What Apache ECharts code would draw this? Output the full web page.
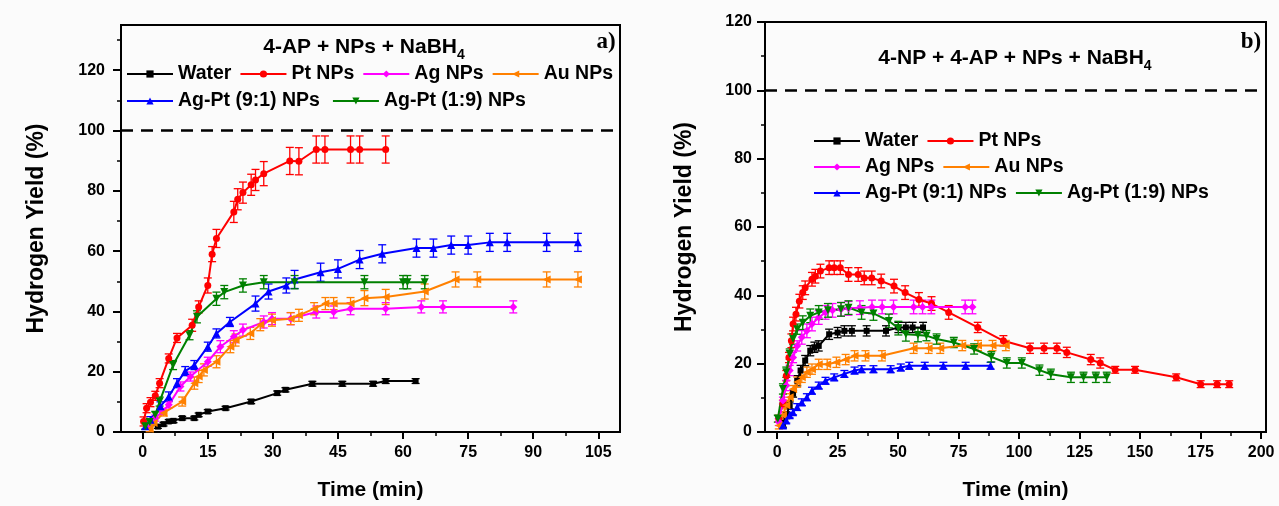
<!DOCTYPE html>
<html><head><meta charset="utf-8">
<script src="https://cdn.jsdelivr.net/npm/echarts@6/dist/echarts.min.js"></script>
<style>html,body{margin:0;padding:0;background:#fbfbfb}#c{width:1279px;height:506px}</style>
</head><body><div id="c"></div>
<script>
// ---------- names ----------
const seriesNames = ['Water', 'Pt NPs', 'Ag NPs', 'Au NPs', 'Ag-Pt (9:1) NPs', 'Ag-Pt (1:9) NPs'];

// ---------- ticks ----------
const xTicksA = [0, 15, 30, 45, 60, 75, 90, 105];
const xMinorA = [7.5, 22.5, 37.5, 52.5, 67.5, 82.5, 97.5];
const yTicksA = [0, 20, 40, 60, 80, 100, 120];
const yMinorA = [10, 30, 50, 70, 90, 110, 130];
const xTicksB = [0, 25, 50, 75, 100, 125, 150, 175, 200];
const xMinorB = [12.5, 37.5, 62.5, 87.5, 112.5, 137.5, 162.5, 187.5];
const yTicksB = [0, 20, 40, 60, 80, 100, 120];
const yMinorB = [10, 30, 50, 70, 90, 110];
const refLine = 100;

// ---------- panel a: 4-AP + NPs + NaBH4 ----------
const waterA_t = [3.5, 4.8, 6, 7.1, 9.1, 11.9, 12.9, 15, 19.1, 25, 31, 32.9, 39.1, 46, 53.1, 56, 62.9];
const waterA_y = [1.8, 2.6, 3.5, 3.7, 4.6, 4.6, 5.7, 6.8, 7.9, 10.1, 12.9, 14, 16, 16, 16, 16.9, 16.9];
const waterA_e = [0.6, 0.6, 0.6, 0.6, 0.6, 0.6, 0.6, 0.6, 0.6, 0.7, 0.7, 0.7, 0.8, 0.8, 0.8, 0.8, 0.8];

const ptA_t = [0.2, 0.9, 1.8, 2.9, 3.9, 6, 7.9, 11.4, 12.9, 15, 16, 17, 21, 21.9, 23.1, 25, 26, 27.9, 33.9, 36, 40, 42, 47.9, 50, 56];
const ptA_y = [3.5, 7.9, 9.9, 12, 16.2, 24.4, 31.2, 35.4, 41.5, 48.6, 59, 64.2, 73, 77.2, 79.4, 82, 83.6, 85.7, 89.9, 89.8, 93.7, 93.7, 93.7, 93.7, 93.7];
const ptA_e = [1.5, 1.5, 1.5, 1.5, 1.5, 1.5, 1.5, 2, 2, 2.5, 2.5, 3, 3.5, 3.5, 3.5, 3.5, 3.5, 4, 4.5, 4.5, 4.5, 4.5, 4.5, 4.5, 4.5];

const agA_t = [1, 2.9, 4.5, 6, 8.7, 11, 15, 17.9, 21, 23.1, 27.9, 29.8, 34.1, 40, 44, 47.9, 56, 64.2, 69.2, 85.4];
const agA_y = [1.9, 4.6, 6.8, 9, 15.1, 18.4, 23.3, 28.3, 31.6, 33.8, 36.5, 37.6, 37.6, 39.8, 39.8, 40.9, 40.9, 41.5, 41.5, 41.5];
const agA_e = [1, 1, 1, 1, 1.5, 1.5, 1.5, 2, 2, 2, 2, 2, 2, 2, 2, 2, 2, 2, 2, 2];

const auA_t = [1.6, 2.5, 4.8, 9.1, 11.9, 12.9, 14.1, 17, 20.2, 21.4, 24.8, 27.1, 29.8, 34.1, 36, 39.5, 42.1, 44, 47.9, 51.1, 56, 65, 72.1, 77.1, 93.1, 100.3];
const auA_y = [1.1, 3, 6.3, 10.1, 16.2, 18.4, 20.6, 23.3, 28.3, 30.5, 32.7, 35.6, 37.1, 37.6, 38.7, 40.9, 42.6, 42.6, 42.6, 44.4, 44.8, 46.6, 50.6, 50.6, 50.6, 50.6];
const auA_e = [1, 1, 1, 1.5, 2, 2, 2, 2, 2, 2, 2, 2, 2, 2, 2, 2, 2, 2, 2, 2.5, 2.5, 2.5, 2.5, 2.5, 2.5, 2.5];

const ap91A_t = [0.6, 1.8, 4.1, 6, 7.9, 9.8, 11.9, 15, 17, 20.1, 26, 29, 33.1, 35, 41, 45, 50, 55.2, 63.1, 67, 71.1, 75, 80, 84, 93.1, 100.3];
const ap91A_y = [1.9, 4.1, 8.5, 11.8, 16.2, 20.2, 22.2, 28.3, 32.7, 36.5, 42.6, 46.6, 48.6, 50.6, 53, 54.1, 57.2, 59.1, 61, 61, 62, 62, 62.9, 62.9, 62.9, 62.9];
const ap91A_e = [1, 1, 1.5, 1.5, 1.5, 1.5, 1.5, 1.5, 1.5, 1.5, 2.5, 2.5, 2.5, 3, 3, 3, 3, 3, 3, 3, 3, 3, 3, 3, 3, 3];

const ap19A_t = [0.6, 1.6, 2.9, 3.9, 7, 10.8, 12.5, 17, 18.8, 23.1, 27.9, 35, 51.1, 60, 61, 65];
const ap19A_y = [1.9, 3.3, 5.7, 10.1, 22.2, 32.1, 38.2, 44.2, 46.4, 48.6, 49.7, 49.7, 49.7, 49.7, 49.7, 49.7];
const ap19A_e = [1, 1, 1, 1.5, 1.5, 1.5, 2, 2.2, 2.2, 2.2, 2.2, 2.2, 2.2, 2.2, 2.2, 2.2];

// ---------- panel b: 4-NP + 4-AP + NPs + NaBH4 ----------
const waterB_t = [2.4, 3.8, 5.2, 6.6, 8.3, 9.7, 11.6, 13.7, 15.4, 17.2, 21.5, 25, 27.8, 30.9, 37, 45, 50.1, 53.2, 56, 60.3];
const waterB_y = [2.4, 4.9, 7.8, 11.2, 15, 18, 20.9, 23.8, 24.8, 25.2, 28.6, 29.1, 29.6, 29.6, 29.6, 29.6, 30.6, 30.6, 30.6, 30.6];
const waterB_e = [1, 1, 1, 1, 1.5, 1.5, 1.5, 1.5, 1.5, 1.5, 1.5, 1.5, 1.5, 1.5, 1.5, 1.5, 1.5, 1.5, 1.5, 1.5];

const ptB_t = [0.7, 2.4, 3.8, 4.9, 5.9, 6.6, 7.8, 9.2, 10.6, 11.6, 14.4, 15.8, 17.9, 21.5, 23.6, 26.1, 29.5, 33.5, 36, 39.1, 43, 48.3, 52.9, 58.6, 63.8, 70.9, 82.9, 93.5, 104.5, 110.3, 115.6, 119.7, 129.6, 133.5, 139.7, 147.9, 164.9, 175, 181.8, 186.8];
const ptB_y = [3.9, 8.3, 16.5, 21.8, 26.7, 31.6, 34.5, 38.3, 40.8, 42.2, 44.7, 45.6, 47.1, 48.1, 48.1, 48.1, 46.1, 46.1, 45.1, 45.1, 44.2, 42.7, 40.8, 38.8, 37.6, 35, 30.6, 26.7, 24.5, 24.5, 24.5, 23.3, 21.2, 20.2, 18.2, 18.2, 16, 14, 14, 14];
const ptB_e = [1, 1, 1.5, 1.5, 2, 2, 2, 2, 2, 2, 2, 2, 2, 2, 2, 2, 2, 2, 2, 2, 2, 2, 2, 2, 2, 2, 1.5, 1.5, 1.5, 1.5, 1.5, 1.5, 1.5, 1.5, 1, 1, 1, 1, 1, 1];

const agB_t = [0.7, 2.4, 3.8, 5.2, 6.6, 8.3, 10.2, 12.3, 14.4, 17.2, 20, 22.9, 26.4, 29.5, 34.2, 39.2, 43.4, 48.1, 56.4, 60.1, 63.7, 77.7, 80.7];
const agB_y = [2.9, 9.2, 13.6, 18, 21.8, 25.2, 27.7, 29.6, 31.6, 33.5, 35, 35.6, 35.9, 36.2, 36.4, 36.6, 36.6, 36.6, 36.6, 36.6, 36.6, 36.6, 36.6];
const agB_e = [1, 1, 1.5, 1.5, 1.5, 1.5, 2, 2, 2, 2, 2, 2, 2, 2, 2, 2, 2, 2, 2, 2, 2, 2, 2];

const auB_t = [0.7, 2.4, 3.8, 5.2, 6.6, 8.3, 10.2, 12.3, 14.4, 17.2, 20.7, 24.5, 28.3, 32, 36.5, 43.3, 56.4, 62.6, 67.4, 76.5, 83, 89, 94.5];
const auB_y = [1.9, 4.9, 7.8, 10.2, 12.6, 14.6, 16, 17.5, 18.4, 19.8, 19.8, 20.4, 21.2, 22.3, 22.3, 22.3, 24.5, 24.5, 24.5, 25.3, 25.3, 25.3, 25.3];
const auB_e = [1, 1, 1, 1, 1, 1.5, 1.5, 1.5, 1.5, 1.5, 1.5, 1.5, 1.5, 1.5, 1.5, 1.5, 1.5, 1.5, 1.5, 1.5, 1.5, 1.5, 1.5];

const ap91B_t = [2.4, 3.8, 5.2, 6.6, 8.3, 10.2, 12.3, 14.4, 17.2, 20, 23.6, 27.8, 32, 34.9, 39.8, 46.9, 51.1, 54.6, 61, 68.7, 77.9, 88.2];
const ap91B_y = [1.9, 3.4, 4.9, 5.8, 7.3, 8.7, 10.2, 12.1, 13.6, 15, 16, 17, 18, 18.4, 18.4, 18.4, 18.9, 19.4, 19.4, 19.4, 19.4, 19.4];
const ap91B_e = [0.8, 0.8, 0.8, 0.8, 1, 1, 1, 1, 1, 1, 1, 1, 1, 1, 1, 1, 1, 1, 1, 1, 1, 1];

const ap19B_t = [0.3, 2.4, 3.8, 5.2, 6.6, 8.3, 10.6, 13.7, 17.2, 21, 26.4, 29.5, 34.9, 39.8, 46.2, 50.1, 53.2, 58.2, 61.7, 65.9, 73, 81.4, 88.5, 94.9, 101.1, 108.4, 113.1, 121.4, 126.6, 131.7, 136.2];
const ap19B_y = [3.9, 12.6, 17.5, 22.8, 27.2, 30.1, 32, 34, 35, 35.6, 35.9, 36.4, 35, 34.7, 32.5, 30.4, 28.6, 28.4, 28.2, 27.2, 26.2, 24.3, 22, 20.2, 20.2, 18.1, 16.9, 16, 16, 16, 16];
const ap19B_e = [1, 1.5, 1.5, 1.5, 1.5, 1.5, 2, 2, 2, 2, 2, 2, 2, 2, 2, 2, 2, 2, 1.5, 1.5, 1.5, 1.5, 1.5, 1.5, 1.5, 1.5, 1.5, 1.5, 1.5, 1.5, 1.5];

// ---------- build ----------
const panelA = [[waterA_t, waterA_y, waterA_e], [ptA_t, ptA_y, ptA_e], [agA_t, agA_y, agA_e],
                [auA_t, auA_y, auA_e], [ap91A_t, ap91A_y, ap91A_e], [ap19A_t, ap19A_y, ap19A_e]];
const panelB = [[waterB_t, waterB_y, waterB_e], [ptB_t, ptB_y, ptB_e], [agB_t, agB_y, agB_e],
                [auB_t, auB_y, auB_e], [ap91B_t, ap91B_y, ap91B_e], [ap19B_t, ap19B_y, ap19B_e]];

const colors = ['#000000', '#ff0000', '#ff00ff', '#ff8000', '#0000ff', '#008000'];
const symbols = ['rect', 'circle', 'diamond', 'triangle', 'triangle', 'triangle'];
const symRot = [0, 0, 0, 90, 0, 180];
const symSize = [6, 7, 8, 8, 8, 8];
const FONT = 'Liberation Sans, Arial, Helvetica, sans-serif';

function errRender(color) {
  return function (params, api) {
    const x = api.value(0), y = api.value(1), e = api.value(2);
    const hi = api.coord([x, y + e]), lo = api.coord([x, y - e]);
    const w = 4;
    const st = { stroke: color, lineWidth: 1.3 };
    return { type: 'group', children: [
      { type: 'line', shape: { x1: hi[0], y1: hi[1], x2: lo[0], y2: lo[1] }, style: st },
      { type: 'line', shape: { x1: hi[0] - w, y1: hi[1], x2: hi[0] + w, y2: hi[1] }, style: st },
      { type: 'line', shape: { x1: lo[0] - w, y1: lo[1], x2: lo[0] + w, y2: lo[1] }, style: st }
    ]};
  };
}

const series = [];
[panelA, panelB].forEach(function (panel, p) {
  panel.forEach(function (arr, i) {
    const pts = arr[0].map(function (t, k) { return [t, arr[1][k], arr[2][k]]; });
    series.push({
      type: 'custom', xAxisIndex: p, yAxisIndex: p, z: 2, silent: true,
      renderItem: errRender(colors[i]), encode: { x: 0, y: 1 },
      data: pts
    });
    const s = {
      name: seriesNames[i], type: 'line', xAxisIndex: p, yAxisIndex: p, z: 3,
      data: pts.map(function (d) { return [d[0], d[1]]; }),
      symbol: symbols[i], symbolRotate: symRot[i], symbolSize: symSize[i],
      showAllSymbol: true, animation: false,
      lineStyle: { color: colors[i], width: 2 },
      itemStyle: { color: colors[i] }
    };
    if (i === 0) {
      s.markLine = { silent: true, symbol: 'none', animation: false,
        label: { show: false },
        lineStyle: { color: '#000', type: [12, 8], width: 2.5 },
        data: [{ yAxis: refLine }] };
    }
    series.push(s);
  });
});

function mainX(grid, min, max, ticks) {
  return { type: 'value', gridIndex: grid, min: min, max: max, position: 'bottom',
    axisLine: { show: true, onZero: false, lineStyle: { color: '#000', width: 2 } },
    axisTick: { show: true, customValues: ticks, length: 7, lineStyle: { color: '#000', width: 2 } },
    axisLabel: { customValues: ticks, color: '#000', fontSize: 16, fontWeight: 'bold', fontFamily: FONT, margin: 13 },
    splitLine: { show: false },
    name: 'Time (min)', nameLocation: 'middle', nameGap: 48,
    nameTextStyle: { color: '#000', fontSize: 21, fontWeight: 'bold', fontFamily: FONT } };
}
function minorX(grid, min, max, ticks) {
  return { type: 'value', gridIndex: grid, min: min, max: max, position: 'bottom',
    axisLine: { show: false, onZero: false }, axisLabel: { show: false }, splitLine: { show: false },
    axisTick: { show: true, customValues: ticks, length: 4, lineStyle: { color: '#000', width: 1.5 } } };
}
function mainY(grid, min, max, ticks, gap, margin) {
  return { type: 'value', gridIndex: grid, min: min, max: max, position: 'left',
    axisLine: { show: true, onZero: false, lineStyle: { color: '#000', width: 2 } },
    axisTick: { show: true, customValues: ticks, length: 8, lineStyle: { color: '#000', width: 2 } },
    axisLabel: { customValues: ticks, color: '#000', fontSize: 16, fontWeight: 'bold', fontFamily: FONT, margin: margin },
    splitLine: { show: false },
    name: 'Hydrogen Yield (%)', nameLocation: 'middle', nameGap: gap,
    nameTextStyle: { color: '#000', fontSize: 23, fontWeight: 'bold', fontFamily: FONT } };
}
function minorY(grid, min, max, ticks) {
  return { type: 'value', gridIndex: grid, min: min, max: max, position: 'left',
    axisLine: { show: false, onZero: false }, axisLabel: { show: false }, splitLine: { show: false },
    axisTick: { show: true, customValues: ticks, length: 4, lineStyle: { color: '#000', width: 1.5 } } };
}

function legend(names, left, top, gap) {
  return { data: names, left: left, top: top, orient: 'horizontal', padding: 0,
    itemWidth: 46, itemHeight: 9, itemGap: gap, selectedMode: false,
    textStyle: { color: '#000', fontSize: 19.5, fontWeight: 'bold', fontFamily: FONT } };
}

const rich = function (size) {
  return {
    m: { fontSize: size, fontWeight: 'bold', fontFamily: FONT, fill: '#000', lineHeight: 30, verticalAlign: 'middle' },
    s: { fontSize: 14, fontWeight: 'bold', fontFamily: FONT, fill: '#000', lineHeight: 30, verticalAlign: 'bottom' }
  };
};

const option = {
  backgroundColor: '#fbfbfb',
  animation: false,
  grid: [
    { left: 121, top: 25, width: 499, height: 409, show: true, borderColor: '#000', borderWidth: 2, backgroundColor: 'transparent' },
    { left: 765, top: 22, width: 501, height: 412, show: true, borderColor: '#000', borderWidth: 2, backgroundColor: 'transparent' }
  ],
  xAxis: [mainX(0, -5, 110, xTicksA), mainX(1, -5, 202, xTicksB), minorX(0, -5, 110, xMinorA), minorX(1, -5, 202, xMinorB)],
  yAxis: [mainY(0, 0, 135, yTicksA, 73, 16), mainY(1, 0, 120, yTicksB, 69, 13), minorY(0, 0, 135, yMinorA), minorY(1, 0, 120, yMinorB)],
  legend: [
    legend(seriesNames.slice(0, 4), 126, 64, 8),
    legend(seriesNames.slice(4, 6), 126, 91, 12),
    legend(seriesNames.slice(0, 2), 813, 131, 8),
    legend(seriesNames.slice(2, 4), 813, 157, 8),
    legend(seriesNames.slice(4, 6), 813, 183, 8)
  ],
  graphic: [
    { type: 'text', x: 364, y: 47, style: { text: '{m|4-AP + NPs + NaBH}{s|4}', align: 'center', verticalAlign: 'middle', rich: rich(21) } },
    { type: 'text', x: 1015, y: 58, style: { text: '{m|4-NP + 4-AP + NPs + NaBH}{s|4}', align: 'center', verticalAlign: 'middle', rich: rich(21) } },
    { type: 'text', x: 606, y: 42, style: { text: 'a)', align: 'center', verticalAlign: 'middle', font: 'bold 23px Liberation Serif, Times New Roman, serif', fill: '#000' } },
    { type: 'text', x: 1251, y: 42, style: { text: 'b)', align: 'center', verticalAlign: 'middle', font: 'bold 23px Liberation Serif, Times New Roman, serif', fill: '#000' } }
  ],
  series: series
};

const chart = echarts.init(document.getElementById('c'), null, { renderer: 'canvas' });
chart.setOption(option);
</script>
</body></html>
